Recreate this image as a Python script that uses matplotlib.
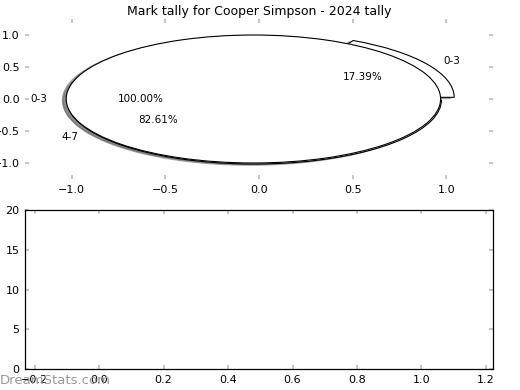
import matplotlib
matplotlib.use("Agg")
import matplotlib.pyplot as plt

title = "Mark tally for Cooper Simpson - 2024 tally"
total_labels = ["0-3"]
total_values = [100.0]
split_labels = ["0-3", "4-7"]
split_values = [17.39, 82.61]
top_ticks = [-1.0, -0.5, 0.0, 0.5, 1.0]
bottom_xticks = [-0.2, 0.0, 0.2, 0.4, 0.6, 0.8, 1.0, 1.2]
bottom_yticks = [0, 5, 10, 15, 20]

plt.rcParams['font.family'] = ['DejaVu Sans']
fig = plt.figure(figsize=(5.2, 3.9), dpi=100)
W, H = 520, 390
ax1 = fig.add_axes([25 / W, 1 - 179 / H, 468 / W, 160 / H])
ax2 = fig.add_axes([25 / W, 1 - 369 / H, 468 / W, 159 / H])

wp = dict(facecolor='white', edgecolor='black', linewidth=0.8)
tp = dict(fontsize=7.5)
sh = dict(ox=-0.015, oy=-0.015, alpha=0.4)
ax1.pie(split_values, labels=split_labels, autopct='%.2f%%', shadow=sh,
        explode=[0.05, 0.03], wedgeprops=wp, textprops=tp)
ax1.pie(total_values, labels=total_labels, autopct='%.2f%%', shadow=sh,
        explode=[0.03], wedgeprops=wp, textprops=tp)
ax1.set_aspect('auto')
ax1.set_xlim(-1.25, 1.25)
ax1.set_ylim(-1.25, 1.25)
ax1.set_xticks(top_ticks)
ax1.set_yticks(top_ticks)
ax1.set_frame_on(False)
ax1.set_title(title, fontsize=9, pad=3)

ax2.set_xlim(-0.23, 1.222)
ax2.set_ylim(0, 20)
ax2.set_xticks(bottom_xticks)
ax2.set_yticks(bottom_yticks)
for s in ax2.spines.values():
    s.set_linewidth(0.9)

for ax in (ax1, ax2):
    ax.tick_params(direction='in', length=3, width=1.2, color='#bbbbbb',
                   labelsize=8, top=True, right=True, pad=4)

fig.text(0.0, 1 - 384 / H, "DreamStats.com", fontsize=9.5, color='#999999',
         ha='left', va='baseline')

fig.savefig("out.png", dpi=100)
